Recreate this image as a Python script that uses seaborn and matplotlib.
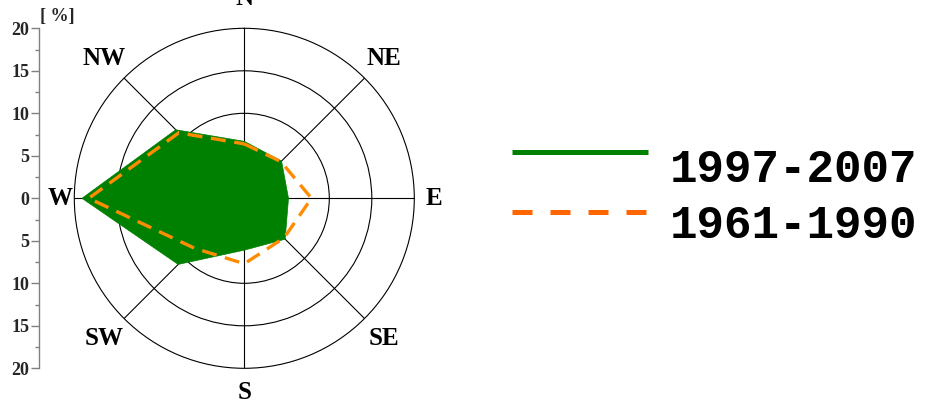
import numpy as np
import pandas as pd
import matplotlib
matplotlib.use("Agg")
import matplotlib.pyplot as plt
import seaborn as sns
from matplotlib.ticker import MultipleLocator, FuncFormatter

# Wind direction frequencies [%]
directions = ["N", "NE", "E", "SE", "S", "SW", "W", "NW"]
freq_1997_2007 = [6.7, 6.2, 5.2, 6.8, 6.1, 11.0, 19.1, 11.4]
freq_1961_1990 = [6.4, 6.1, 7.9, 6.6, 7.7, 8.3, 18.3, 10.9]
period_labels = ["1997-2007", "1961-1990"]
ring_values = [10, 15]
r_max = 20
scale_ticks = [-20, -15, -10, -5, 0, 5, 10, 15, 20]
scale_label = "[ %]"

GREEN = "#008000"
ORANGE_LINE = "#ff8c00"
ORANGE_KEY = "#ff6600"

sns.set_theme(style="white")
plt.rcParams["font.family"] = ["Liberation Serif", "DejaVu Serif"]

W, H = 928, 404
fig = plt.figure(figsize=(W / 100, H / 100), dpi=100)

# polar rose
cx, cy, rad = 244.3, 198.3, 170.0
ax = fig.add_axes([(cx - rad) / W, (H - cy - rad) / H, 2 * rad / W, 2 * rad / H],
                  projection="polar")
ax.set_theta_zero_location("N")
ax.set_theta_direction(-1)
ax.set_facecolor("white")

angles = np.deg2rad(np.arange(len(directions)) * 45.0)


def closed(values):
    theta = np.append(angles, angles[0] + 2 * np.pi)
    r = np.append(np.asarray(values, float), values[0])
    return pd.DataFrame({"theta": theta, "r": r})


df_new = closed(freq_1997_2007)
df_old = closed(freq_1961_1990)

ax.fill(df_new["theta"], df_new["r"], color=GREEN, lw=0, zorder=2)
sns.lineplot(data=df_new, x="theta", y="r", sort=False, estimator=None,
             color=GREEN, lw=0.5, ax=ax, zorder=2)
sns.lineplot(data=df_old, x="theta", y="r", sort=False, estimator=None,
             color=ORANGE_LINE, lw=2.4, linestyle=(0, (4.5, 2.6)),
             dash_capstyle="butt", dash_joinstyle="miter", ax=ax, zorder=3)

ax.set_ylim(0, r_max)
ax.set_xticks(angles)
ax.set_xticklabels([])
ax.set_yticks(ring_values)
ax.set_yticklabels([])
ax.set_xlabel("")
ax.set_ylabel("")
ax.set_axisbelow(True)
ax.grid(True, color="black", lw=0.8)
ax.spines["polar"].set_color("black")
ax.spines["polar"].set_linewidth(0.8)

# compass labels
label_r = {"N": 23.5, "NE": 23.3, "E": 22.3, "SE": 23.3,
           "S": 22.9, "SW": 23.3, "W": 21.7, "NW": 23.3}
for ang, name in zip(angles, directions):
    ax.text(ang, label_r[name], name, ha="center", va="center",
            fontsize=18, fontweight="bold", color="black", clip_on=False)

# vertical percentage scale
sax = fig.add_axes([39.3 / W, (H - cy - rad) / H, 1 / W, 2 * rad / H])
sax.set_ylim(-r_max, r_max)
sax.set_facecolor("none")
for side in ["top", "right", "bottom"]:
    sax.spines[side].set_visible(False)
sax.spines["left"].set_color("#808080")
sax.spines["left"].set_linewidth(1.0)
sax.set_xticks([])
sax.set_yticks(scale_ticks)
sax.yaxis.set_major_formatter(FuncFormatter(lambda v, p: f"{abs(v):.0f}"))
sax.yaxis.set_minor_locator(MultipleLocator(2.5))
sax.tick_params(axis="y", which="both", left=True, direction="out",
                color="#808080", width=1.0, labelsize=13, pad=1)
sax.tick_params(axis="y", which="major", length=6)
sax.tick_params(axis="y", which="minor", length=3)
for t in sax.get_yticklabels():
    t.set_fontweight("bold")
sax.text(1.0, 20.4, scale_label, transform=sax.get_yaxis_transform(),
         ha="left", va="bottom", fontsize=13, fontweight="bold")

# legend
lax = fig.add_axes([0, 0, 1, 1])
lax.set_xlim(0, W)
lax.set_ylim(H, 0)
lax.axis("off")
lax.plot([512, 648], [151.7, 151.7], color=GREEN, lw=3.6, solid_capstyle="butt")
lax.plot([512, 648], [211.7, 211.7], color=ORANGE_KEY, lw=3.6,
         linestyle=(0, (4.0, 3.6)), dash_capstyle="butt")
for y, lab in zip([181.7, 238.3], period_labels):
    lax.text(670, y, lab, ha="left", va="baseline", fontsize=33,
             fontweight="bold", family=["Liberation Mono", "DejaVu Sans Mono"],
             color="black")

fig.savefig("out.png", dpi=100, facecolor="white")
